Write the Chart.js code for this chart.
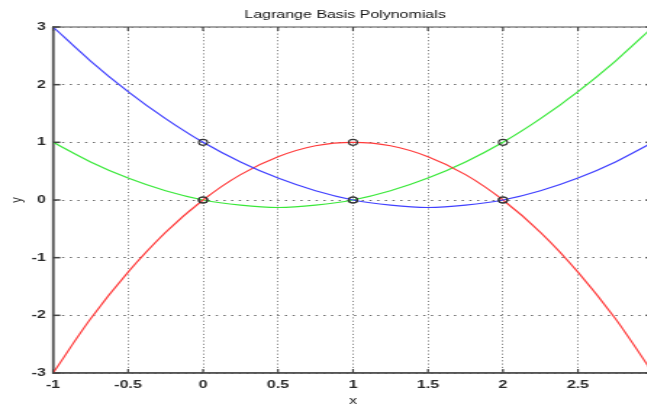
<!DOCTYPE html>
<html>
<head>
<meta charset="utf-8">
<script src="https://cdn.jsdelivr.net/npm/chart.js@4.4.1/dist/chart.umd.min.js"></script>
<style>
  html, body { margin: 0; padding: 0; background: #fff; overflow: hidden; width: 647px; height: 408px; }
  #wrap { position: absolute; left: 0; top: 0; width: 476px; height: 408px; transform: scaleX(1.45); transform-origin: 0 0; }
</style>
</head>
<body>
<div id="wrap"><canvas id="c"></canvas></div>
<script>
// ---- data ----
const xValues = [-1, -0.75, -0.5, -0.25, 0, 0.25, 0.5, 0.75, 1, 1.25, 1.5, 1.75, 2, 2.25, 2.5, 2.75, 3];
const blueL0  = [3, 2.41, 1.88, 1.41, 1, 0.66, 0.38, 0.16, 0, -0.09, -0.13, -0.09, 0, 0.16, 0.38, 0.66, 1];
const redL1   = [-3, -2.06, -1.25, -0.56, 0, 0.44, 0.75, 0.94, 1, 0.94, 0.75, 0.44, 0, -0.56, -1.25, -2.06, -3];
const greenL2 = [1, 0.66, 0.38, 0.16, 0, -0.09, -0.13, -0.09, 0, 0.16, 0.38, 0.66, 1, 1.41, 1.88, 2.41, 3];
const nodeX = [0, 1, 2];
const nodeBlue  = [1, 0, 0];
const nodeRed   = [0, 1, 0];
const nodeGreen = [0, 0, 1];
const xTicks = [-1, -0.5, 0, 0.5, 1, 1.5, 2, 2.5, 3];
const yTicks = [-3, -2, -1, 0, 1, 2, 3];
const titleText = 'Lagrange Basis Polynomials';

const pts = (xs, ys) => xs.map((x, i) => ({x: x, y: ys[i]}));

const lineDs = (label, ys, color) => ({
  label, data: pts(xValues, ys), showLine: true, borderColor: color,
  borderWidth: 1.2, pointRadius: 0, tension: 0.3, fill: false, order: 2
});
const nodeDs = (label, ys) => ({
  label, data: pts(nodeX, ys), showLine: false, pointStyle: 'circle',
  pointRadius: 3, pointBorderColor: '#333', pointBackgroundColor: 'rgba(0,0,0,0)',
  pointBorderWidth: 1.1, order: 1
});

const FONT = 'Liberation Sans, Arial, sans-serif';

const frame = {
  id: 'frame',
  afterDatasetsDraw(chart) {
    const {ctx, chartArea: a, scales: {x, y}} = chart;
    ctx.save();
    ctx.strokeStyle = '#888';
    ctx.lineWidth = 1.3;
    ctx.beginPath(); ctx.moveTo(a.left, a.top); ctx.lineTo(a.right, a.top); ctx.stroke();
    ctx.beginPath(); ctx.moveTo(a.right, a.top); ctx.lineTo(a.right, a.bottom); ctx.stroke();
    ctx.strokeStyle = '#444';
    ctx.lineWidth = 1.2;
    xTicks.forEach(v => {
      const px = x.getPixelForValue(v);
      ctx.beginPath(); ctx.moveTo(px, a.bottom); ctx.lineTo(px, a.bottom - 4); ctx.stroke();
      ctx.beginPath(); ctx.moveTo(px, a.top); ctx.lineTo(px, a.top + 4); ctx.stroke();
    });
    ctx.lineWidth = 1.5;
    yTicks.forEach(v => {
      const py = y.getPixelForValue(v);
      ctx.beginPath(); ctx.moveTo(a.left, py); ctx.lineTo(a.left + 5, py); ctx.stroke();
      ctx.beginPath(); ctx.moveTo(a.right, py); ctx.lineTo(a.right - 5, py); ctx.stroke();
    });
    // title text
    ctx.fillStyle = '#111';
    ctx.font = '11px ' + FONT;
    ctx.textAlign = 'center';
    ctx.textBaseline = 'middle';
    ctx.fillText(titleText, 238, 15);
    ctx.restore();
  }
};

new Chart(document.getElementById('c'), {
  type: 'scatter',
  data: {
    datasets: [
      lineDs('L0', blueL0, '#4040ff'),
      lineDs('L1', redL1, '#ff3a3a'),
      lineDs('L2', greenL2, '#3ae83a'),
      nodeDs('L0 nodes', nodeBlue),
      nodeDs('L1 nodes', nodeRed),
      nodeDs('L2 nodes', nodeGreen)
    ]
  },
  options: {
    responsive: true,
    maintainAspectRatio: false,
    animation: false,
    events: [],
    layout: { padding: { left: 0, right: 25.7, top: 27, bottom: 0 } },
    plugins: {
      legend: { display: false },
      tooltip: { enabled: false },
      title: { display: false }
    },
    scales: {
      x: {
        type: 'linear', min: -1, max: 3,
        afterBuildTicks: s => { s.ticks = xTicks.map(v => ({value: v})); },
        afterFit: s => { s.height = 35; },
        ticks: {
          color: '#2a2a2a', padding: 5, maxRotation: 0, autoSkip: false,
          font: { family: FONT, size: 11, weight: 'bold' },
          callback: v => String(v)
        },
        grid: { drawTicks: false, color: '#6a6a6a', lineWidth: 0.9 },
        border: { display: true, color: '#555', width: 1.5, dash: [1, 2.3] },
        title: {
          display: true, text: 'x', color: '#222',
          font: { family: FONT, size: 11 },
          padding: { top: 0, bottom: 0 }
        }
      },
      y: {
        type: 'linear', min: -3, max: 3,
        afterBuildTicks: s => { s.ticks = yTicks.map(v => ({value: v})); },
        afterFit: s => { s.width = 36.6; },
        ticks: {
          color: '#2a2a2a', padding: 5, autoSkip: false,
          font: { family: FONT, size: 11, weight: 'bold' },
          callback: v => String(v)
        },
        grid: { drawTicks: false, color: '#6a6a6a', lineWidth: 1 },
        border: { display: true, color: '#555', width: 1.5, dash: [1.5, 3.8] },
        title: {
          display: true, text: 'y', color: '#222',
          font: { family: FONT, size: 11 },
          padding: { top: 5, bottom: 0 }
        }
      }
    }
  },
  plugins: [frame, {
    id: 'solidAxes',
    beforeDatasetsDraw(chart) {
      const {ctx, chartArea: a} = chart;
      ctx.save();
      ctx.strokeStyle = '#555';
      ctx.lineWidth = 1.5;
      ctx.beginPath(); ctx.moveTo(a.left, a.top); ctx.lineTo(a.left, a.bottom); ctx.lineTo(a.right, a.bottom); ctx.stroke();
      ctx.restore();
    }
  }]
});
</script>
</body>
</html>
